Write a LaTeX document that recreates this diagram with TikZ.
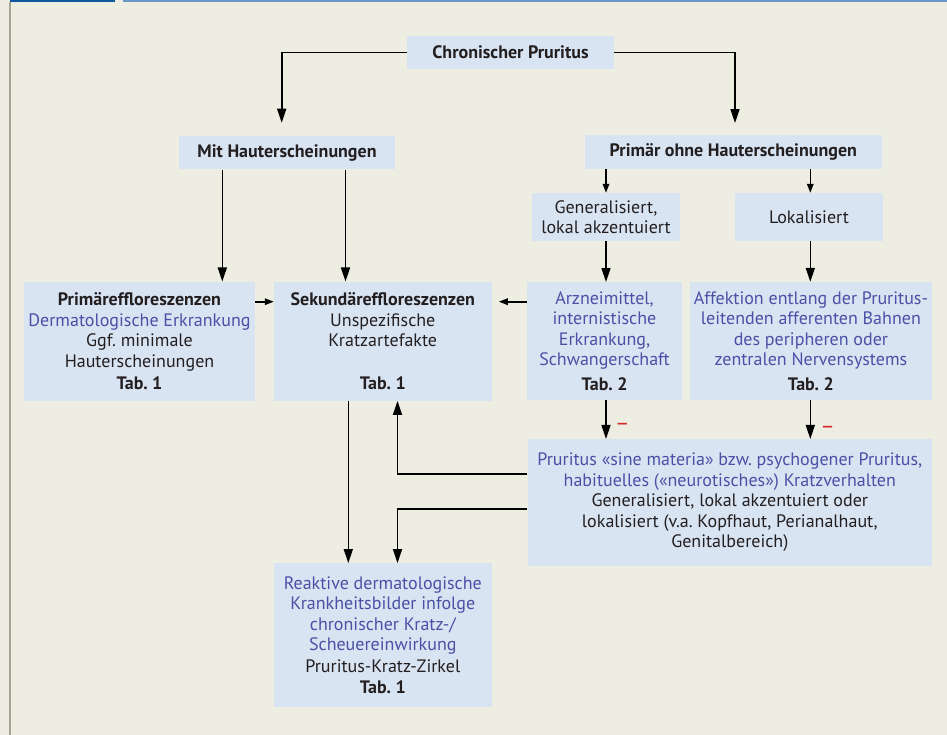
\documentclass[tikz,border=0pt]{standalone}
\usepackage{fontspec}
\setmainfont{PT Sans}
\usetikzlibrary{arrows.meta,calc}
\definecolor{bg}{HTML}{EEEDE2}
\definecolor{boxc}{HTML}{D9E4F2}
\definecolor{tblue}{HTML}{4B50A6}
\definecolor{tdark}{HTML}{231F20}
\definecolor{barA}{HTML}{0B5AA0}
\definecolor{barB}{HTML}{6A98C8}
\definecolor{edge}{HTML}{A8A496}
\definecolor{minusred}{HTML}{D9262A}
\frenchspacing
\tikzset{
  box/.style={fill=boxc, inner sep=0pt, align=center, text=tdark,
    font=\fontsize{18}{20.5}\selectfont},
  arr/.style={line width=1.6pt, -{Triangle[length=14pt,width=9pt]}},
  sarr/.style={line width=1.6pt, -{Triangle[length=9pt,width=6.5pt]}},
  minus/.style={text=minusred, inner sep=0pt, font=\fontsize{22}{22}\selectfont}
}
\newcommand{\bl}[1]{\textcolor{tblue}{#1}}
\begin{document}
\begin{tikzpicture}[x=1pt,y=-1pt]
\useasboundingbox (0,0) rectangle (947,735);
\fill[bg] (0,0) rectangle (947,735);
\fill[barA] (9.5,0) rectangle (114.5,2.2);
\fill[barB] (123,0) rectangle (947,2.2);
\fill[edge] (9,2.5) rectangle (11,735);

% boxes
\node[box, minimum width=207pt, minimum height=33pt] (chron) at (510.5,52.5) {\textbf{Chronischer Pruritus}};
\node[box, minimum width=216pt, minimum height=33.5pt] (mit) at (287,152.7) {\textbf{Mit Hauterscheinungen}};
\node[box, minimum width=296.7pt, minimum height=33.5pt] (prim) at (733.3,152) {\textbf{Primär ohne Hauterscheinungen}};
\node[box, minimum width=148pt, minimum height=48pt] (gen) at (606,217) {Generalisiert,\\lokal akzentuiert};
\node[box, minimum width=148pt, minimum height=48pt] (lok) at (809,217) {Lokalisiert};
\node[box, minimum width=231pt, minimum height=119pt] (peff) at (139.5,341.2) {\textbf{Primäreffloreszenzen}\\\bl{Dermatologische Erkrankung}\\Ggf. minimale\\Hauterscheinungen\\[1.5pt]\textbf{Tab. 1}};
\node[box, minimum width=217.7pt, minimum height=119pt] (sek) at (382.8,341.2) {\textbf{Sekundäreffloreszenzen}\\Unspezifische\\Kratzartefakte\\~\\[1.5pt]\textbf{Tab. 1}};
\node[box, minimum width=154.4pt, minimum height=118pt] (arz) at (604.5,341.2) {\bl{Arzneimittel,}\\\bl{internistische}\\\bl{Erkrankung,}\\\bl{Schwangerschaft}\\[4pt]\textbf{Tab. 2}};
\node[box, minimum width=241.7pt, minimum height=118pt] (aff) at (810.9,341) {\bl{Affektion entlang der Pruritus-}\\\bl{leitenden afferenten Bahnen}\\\bl{des peripheren oder}\\\bl{zentralen Nervensystems}\\[4pt]\textbf{Tab. 2}};
\node[box, minimum width=404.4pt, minimum height=126.7pt] (sine) at (729.8,502.5) {\bl{Pruritus «sine materia» bzw. psychogener Pruritus,}\\\bl{habituelles («neurotisches») Kratzverhalten}\\Generalisiert, lokal akzentuiert oder\\lokalisiert (v.a. Kopfhaut, Perianalhaut,\\Genitalbereich)};
\node[box, minimum width=217.7pt, minimum height=143.4pt] (reak) at (382.8,635) {\bl{Reaktive dermatologische}\\\bl{Krankheitsbilder infolge}\\\bl{chronischer Kratz-/}\\\bl{Scheuereinwirkung}\\[1.5pt]Pruritus-Kratz-Zirkel\\\textbf{Tab. 1}};

% helper coordinates
\coordinate (xMitL) at (281.7,0);
\coordinate (xPrimR) at (735,0);
\coordinate (xA) at (222.3,0);
\coordinate (xB) at (345.5,0);
\coordinate (xB2) at (348.3,0);
\coordinate (xG) at (606,0);
\coordinate (xL) at (810.3,0);
\coordinate (xS) at (397.5,0);
\coordinate (yR) at (0,301.7);
\coordinate (yU) at (0,474);
\coordinate (yD) at (0,509);

% connectors
\draw[arr, shorten >=13pt] (chron.west) -| (mit.north -| xMitL);
\draw[arr, shorten >=12pt] (chron.east) -| (prim.north -| xPrimR);
\draw[arr] (mit.south -| xA) -- (peff.north -| xA);
\draw[arr] (mit.south -| xB) -- (sek.north -| xB);
\draw[sarr] (prim.south -| xG) -- (gen.north -| xG);
\draw[sarr] (prim.south -| xL) -- (lok.north -| xL);
\draw[arr] (gen.south -| xG) -- (arz.north -| xG);
\draw[arr] (lok.south -| xL) -- (aff.north -| xL);
\draw[sarr] (peff.east |- yR) -- (sek.west |- yR);
\draw[sarr, shorten >=7pt] (arz.west |- yR) -- (sek.east |- yR);
\draw[arr] (arz.south -| xG) -- (sine.north -| xG);
\draw[arr] (aff.south -| xL) -- (sine.north -| xL);
\draw[arr] (sine.west |- yU) -| (sek.south -| xS);
\draw[arr] (sine.west |- yD) -| (reak.north -| xS);
\draw[arr] (sek.south -| xB2) -- (reak.north -| xB2);

% minus signs
\node[minus] (m1) at (622.5,427) {–};
\node[minus] (m2) at (827.5,430) {–};
\end{tikzpicture}
\end{document}
